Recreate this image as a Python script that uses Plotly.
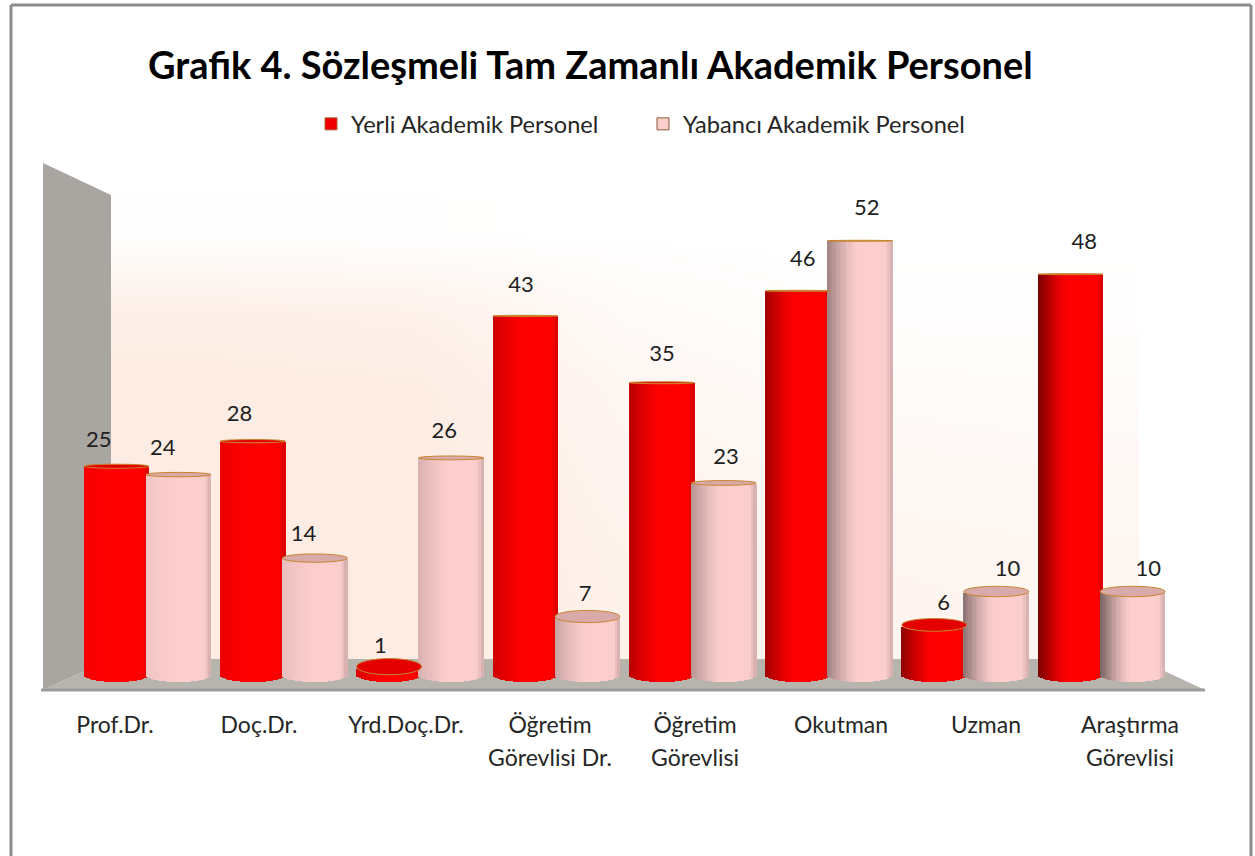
import numpy as np
import plotly.graph_objects as go

# ---- data ----
categories = ["Prof.Dr.", "Doç.Dr.", "Yrd.Doç.Dr.", "Öğretim Görevlisi Dr.", "Öğretim Görevlisi",
              "Okutman", "Uzman", "Araştırma Görevlisi"]
tick_lines = [["Prof.Dr."], ["Doç.Dr."], ["Yrd.Doç.Dr."], ["Öğretim", "Görevlisi Dr."], ["Öğretim", "Görevlisi"],
              ["Okutman"], ["Uzman"], ["Araştırma", "Görevlisi"]]
yerli = [25, 28, 1, 43, 35, 46, 6, 48]
yabanci = [24, 14, 26, 7, 23, 52, 10, 10]

# ---- layout constants (page pixels) ----
W, H = 1255, 856
X0, DX = 147.5, 136.3      # centre of the first group, group spacing
Y0, DY = 675.0, 8.35       # pixel row of value 0, pixels per unit
OFFSET, BAR_W = 31.0, 65.0
BASE_H = 7.0
LABEL_PX = [115, 259, 406, 550, 695, 841, 986, 1130]
N = 26
FONT = "Lato"


def xd(px):
    return (px - X0) / DX


def yd(py):
    return (Y0 - py) / DY


def xp(px):
    return px / W


def yp(py):
    return 1 - py / H


def half_h(v):
    return 0.5 + 8 * (1 - v / 52) ** 2.5


def shade(rgb, u, i):
    d = 0.04 + 0.50 * (i / 7) ** 1.3
    t = min(1, (u + 1) / 0.95)
    s = 1 - d * (1 - t) ** 1.4 - 0.16 * max(0, (u - 0.8) / 0.2)
    return "rgb(%d,%d,%d)" % tuple(int(c * s) for c in rgb)


fig = go.Figure()

# back wall wash: uniform cells between the wall edges (px 111..1139, 195..659)
cols, rows = 5, 6
wx = 111 + (np.arange(cols) + 0.5) * (1139 - 111) / cols
wy = 195 + (np.arange(rows) + 0.5) * (659 - 195) / rows
wz = [[0.05, 0.03, 0.0, 0.0, 0.0],
      [0.80, 0.70, 0.25, 0.05, 0.05],
      [1.00, 0.95, 0.45, 0.25, 0.20],
      [1.00, 1.00, 0.55, 0.40, 0.35],
      [1.00, 1.00, 0.65, 0.50, 0.45],
      [1.00, 1.00, 0.70, 0.55, 0.50]]
fig.add_trace(go.Heatmap(x=xd(wx), y=yd(wy), z=wz, zsmooth="best", showscale=False, hoverinfo="skip",
                         zmin=0, zmax=1, colorscale=[[0, "#ffffff"], [1, "#fdece3"]]))

# cylinders as narrow strips
series = [("Yerli Akademik Personel", yerli, -OFFSET, (255, 0, 0)),
          ("Yabancı Akademik Personel", yabanci, OFFSET, (252, 205, 205))]
strip_w = BAR_W / N
us = (np.arange(N) + 0.5) / N * 2 - 1
for name, values, off, rgb in series:
    for k, u in enumerate(us):
        xs = [xd(X0 + DX * i + off + u * BAR_W / 2) for i in range(8)]
        root = np.sqrt(1 - u * u)
        base = [-BASE_H / DY * root for _ in values]
        top = [v - half_h(v) / DY * root for v in values]
        fig.add_trace(go.Bar(
            x=xs, y=[t - b for t, b in zip(top, base)], base=base,
            width=(strip_w + 0.7) / DX,
            marker=dict(color=[shade(rgb, u, i) for i in range(8)], line_width=0),
            name=name, showlegend=False, hoverinfo="skip"))

# legend carriers
fig.add_trace(go.Bar(x=[None], y=[None], name=series[0][0], marker=dict(color="#f00000", line=dict(color="#a86030", width=1))))
fig.add_trace(go.Bar(x=[None], y=[None], name=series[1][0], marker=dict(color="#fbcfcb", line=dict(color="#8a5a3a", width=1))))

# data labels
for name, values, off, rgb in series:
    cx = [X0 + DX * i + off for i in range(8)]
    fig.add_trace(go.Scatter(
        x=[xd(c + 0.033 * (c - 655)) for c in cx],
        y=[v + (19 + 0.24 * v) / DY for v in values],
        mode="text", text=[str(v) for v in values], textposition="middle center",
        textfont=dict(family=FONT, size=22, color="#1e1e1e"),
        showlegend=False, hoverinfo="skip"))

shapes = []
# side wall, floor
wall = [(43, 163), (111, 195), (111, 659), (43, 690)]
floor = [(43, 690), (111, 659), (1139, 659), (1205, 690)]
for poly, col in ((wall, "#a9a5a1"), (floor, "#b6b4ad")):
    path = "M" + " L".join(f"{xp(a):.5f},{yp(b):.5f}" for a, b in poly) + " Z"
    shapes.append(dict(type="path", path=path, xref="paper", yref="paper", fillcolor=col,
                       line_width=0, layer="below"))
shapes.append(dict(type="line", xref="paper", yref="paper", x0=xp(41), x1=xp(1205), y0=yp(690), y1=yp(690),
                   line=dict(color="#9c9c9c", width=3), layer="below"))
# frame
for a, b, c, d in ((11, 5, 1251, 5), (11, 5, 11, 856), (1251, 5, 1251, 856)):
    shapes.append(dict(type="line", xref="paper", yref="paper", x0=xp(a), x1=xp(c), y0=yp(b), y1=yp(d),
                       line=dict(color="#8c8c8c", width=3), layer="below"))
# cylinder tops
for name, values, off, rgb in series:
    fill = "#e40000" if rgb[1] == 0 else "#d9aaaa"
    for i, v in enumerate(values):
        c = X0 + DX * i + off
        h = half_h(v)
        shapes.append(dict(type="circle", xref="x", yref="y",
                           x0=xd(c - BAR_W / 2), x1=xd(c + BAR_W / 2),
                           y0=v - h / DY, y1=v + h / DY,
                           fillcolor=fill, line=dict(color="#c8832a", width=1), layer="above"))


def tick_text(lines):
    return "<br>".join(f"<span style='font-size:23px'>{t}</span>" for t in lines)


fig.update_layout(
    width=W, height=H, autosize=False,
    margin=dict(l=0, r=0, t=0, b=0),
    paper_bgcolor="white", plot_bgcolor="rgba(0,0,0,0)",
    barmode="overlay", bargap=0, shapes=shapes,
    title=dict(text="<b>Grafik 4. Sözleşmeli Tam Zamanlı Akademik Personel</b>", x=xp(148), xanchor="left",
               y=yp(66), yanchor="middle", font=dict(family=FONT, size=38, color="#000000")),
    legend=dict(orientation="h", x=xp(311), xanchor="left", y=yp(124), yanchor="middle",
                entrywidth=287, entrywidthmode="pixels", bgcolor="rgba(0,0,0,0)",
                font=dict(family=FONT, size=23.6, color="#262626"), traceorder="normal"),
    xaxis=dict(range=[xd(0), xd(W)], showgrid=False, zeroline=False, showline=False, ticks="",
               tickmode="array", tickvals=[xd(p) for p in LABEL_PX], ticktext=[tick_text(t) for t in tick_lines],
               tickfont=dict(family=FONT, size=25, color="#262626"), tickangle=0,
               anchor="free", position=yp(707), fixedrange=True),
    yaxis=dict(range=[yd(H), yd(0)], visible=False, fixedrange=True),
)

fig.write_html("out.html", config={"displayModeBar": False}, post_script="document.body.style.margin='0';")
